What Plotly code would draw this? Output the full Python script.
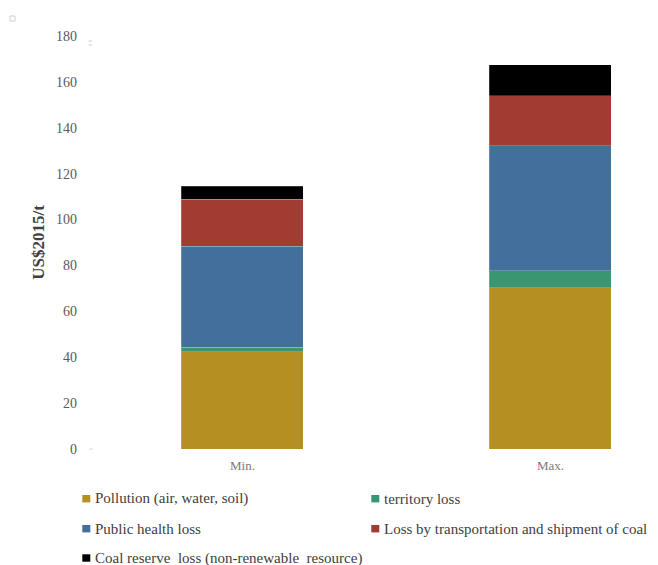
import plotly.graph_objects as go

categories = ["Min.", "Max."]
series_names = [
    "Pollution (air, water, soil)",
    "territory loss",
    "Public health loss",
    "Loss by transportation and shipment of coal",
    "Coal reserve  loss (non-renewable  resource)",
]
pollution = [42.3, 70.2]
territory = [2.0, 7.4]
public_health = [44.1, 54.5]
transport = [20.4, 21.8]
coal_reserve = [5.8, 13.6]
colors = ["#B58F22", "#3A9670", "#426F9C", "#A23B32", "#000000"]
y_ticks = [0, 20, 40, 60, 80, 100, 120, 140, 160, 180]

series_values = [pollution, territory, public_health, transport, coal_reserve]

W, H = 658, 565
L, R, T, B = 93, 0, 36, 116
PW, PH = W - L - R, H - T - B


def px_x(px):
    return (px - L) / PW


def px_y(py):
    return (H - B - py) / PH


fig = go.Figure()
for name, vals, col in zip(series_names, series_values, colors):
    fig.add_trace(go.Bar(
        x=categories, y=vals, name=name, width=0.396, showlegend=False,
        marker=dict(color=col, line=dict(width=0.6, color="rgba(255,255,255,0.35)")),
    ))

serif = "Liberation Serif, Times New Roman, serif"

# custom legend (two columns)
legend_pos = [(86.3, 498.7), (375.3, 498.7), (86.3, 528.7), (375.3, 528.7), (86.3, 558)]
shapes = []
annotations = []
for (cx, cy), name, col in zip(legend_pos, series_names, colors):
    shapes.append(dict(type="rect", xref="paper", yref="paper",
                       x0=px_x(cx - 4), x1=px_x(cx + 4), y0=px_y(cy + 3.7), y1=px_y(cy - 3.7),
                       fillcolor=col, line=dict(width=0)))
    annotations.append(dict(text=name, xref="paper", yref="paper",
                            x=px_x(cx + 6.5), y=px_y(cy), xanchor="left", yanchor="middle",
                            showarrow=False, font=dict(size=15, color="#404040", family=serif)))

# small decorative marks from the reference
shapes.append(dict(type="rect", xref="paper", yref="paper",
                   x0=px_x(10), x1=px_x(15), y0=px_y(21), y1=px_y(16),
                   line=dict(width=1, color="#cfcfcf"), fillcolor="white"))
for yy in (41, 45):
    shapes.append(dict(type="line", xref="paper", yref="paper",
                       x0=px_x(88.5), x1=px_x(92), y0=px_y(yy), y1=px_y(yy),
                       line=dict(width=1, color="#d0d0d0")))
shapes.append(dict(type="line", xref="paper", yref="paper",
                   x0=px_x(89), x1=px_x(93), y0=px_y(449), y1=px_y(449),
                   line=dict(width=1, color="#d8d8d8")))

fig.update_layout(
    width=W, height=H,
    barmode="stack",
    plot_bgcolor="white", paper_bgcolor="white",
    margin=dict(l=L, r=R, t=T, b=B, autoexpand=False),
    font=dict(family=serif, color="#595959"),
    xaxis=dict(range=[-0.485, 1.349], showline=False, ticks="", showgrid=False,
               tickfont=dict(size=13, color="#7a7a7a"), ticklabelstandoff=7),
    yaxis=dict(range=[0, 180], tickvals=y_ticks, showgrid=False, showline=False,
               zeroline=False, ticks="", tickfont=dict(size=14, color="#5a5a5a"),
               ticklabelstandoff=15,
               title=dict(text="US$2015/t", font=dict(size=17, color="#404040",
                                                     family=serif, weight="bold"),
                          standoff=7)),
    shapes=shapes,
    annotations=annotations,
    showlegend=False,
)
fig.write_html("out.html")
